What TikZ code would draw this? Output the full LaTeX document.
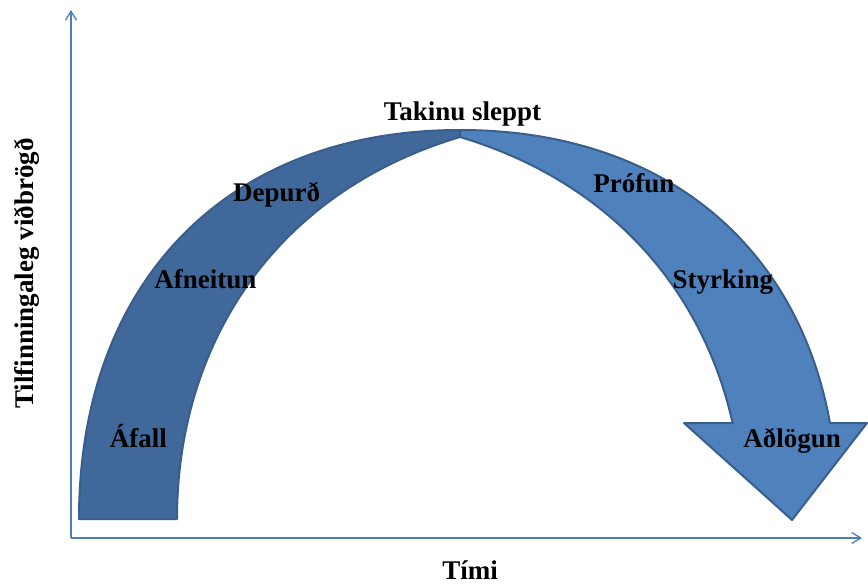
\documentclass[tikz,border=0pt]{standalone}
\usepackage{fontspec}
\setmainfont{Liberation Serif}
\usetikzlibrary{arrows.meta}
\definecolor{darkarc}{HTML}{41689B}
\definecolor{lightarc}{HTML}{4F81BD}
\definecolor{edgeblue}{HTML}{3A5E8C}
\definecolor{axisblue}{HTML}{4A7EBB}
\tikzset{
  lbl/.style={anchor=base, inner sep=0pt, font=\fontsize{27}{32}\selectfont\bfseries},
  axisline/.style={draw=axisblue, line width=1.5pt, -{Straight Barb[length=9pt,width=11pt,line width=1.3pt]}},
  arcshape/.style={draw=edgeblue, line width=2pt, line join=round}
}
\begin{document}
\begin{tikzpicture}[x=1pt,y=-1pt]
\useasboundingbox (0,0) rectangle (868,586);
% axes
\coordinate (origin) at (71,538);
\coordinate (ytop) at (71,10);
\coordinate (xend) at (862,538);
\draw[axisline] (origin) -- (ytop);
\draw[axisline] (origin) -- (xend);
% left dark arc
\path[arcshape, fill=darkarc] (79,519) .. controls (79,284) and (225,130) .. (460,130)
  -- (460,137) .. controls (270,194) and (177,349) .. (177,519) -- cycle;
% right light arrow
\path[arcshape, fill=lightarc] (460,130) .. controls (661.4,130) and (797.3,243.1) .. (830,423)
  -- (867,423) -- (792,520) -- (684,423) -- (732.6,423)
  .. controls (703.4,292.8) and (613.3,183) .. (460,137) -- cycle;
% labels
\node[lbl] (top) at (462.5,121) {Takinu sleppt};
\node[lbl] (dep) at (276.7,201) {Depurð};
\node[lbl] (afn) at (205.3,288.5) {Afneitun};
\node[lbl] (afa) at (138.3,447) {Áfall};
\node[lbl] (pro) at (633.8,192) {Prófun};
\node[lbl] (sty) at (722.8,288.5) {Styrking};
\node[lbl] (adl) at (792.2,447) {Aðlögun};
\node[lbl] (tim) at (470,579) {Tími};
\node[lbl, rotate=90] (ylab) at (33,273.5) {Tilfinningaleg viðbrögð};
\end{tikzpicture}
\end{document}
